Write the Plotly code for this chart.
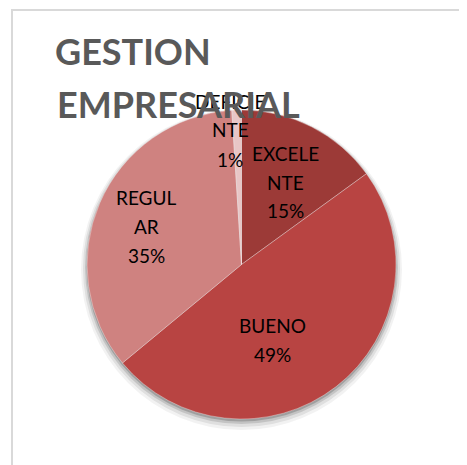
import plotly.graph_objects as go

categories = ["EXCELENTE", "BUENO", "REGULAR", "DEFICIENTE"]
values = [15, 49, 35, 1]
wrapped_labels = [["EXCELE", "NTE"], ["BUENO"], ["REGUL", "AR"], ["DEFICIE", "NTE"]]
colors = ["#9c3a37", "#b84442", "#cf8280", "#e8c6c6"]
title_lines = ["GESTION", "EMPRESARIAL"]

# The page adds an 8px body margin; work in figure pixels.
W, H = 459, 457
OFF = 8


def px(x):
    return (x - OFF) / W


def py(y):
    return 1 - (y - OFF) / H


# label block centres (x, first-line y) in picture pixels
label_pos = [(285, 153), (272, 325), (146, 197), (230, 101)]
LINE = 29

fig = go.Figure()

# soft drop shadow behind the pie
cx0, cx1, cy0, cy1 = 87, 396, 110, 419
for grow, dy, op in [(6, 5, 0.05), (4, 4, 0.08), (2, 3, 0.12), (0.5, 2, 0.18)]:
    fig.add_shape(type="circle", xref="paper", yref="paper",
                  x0=px(cx0 - grow), x1=px(cx1 + grow),
                  y0=py(cy1 + grow + dy), y1=py(cy0 - grow + dy),
                  fillcolor=f"rgba(0,0,0,{op})", line=dict(width=0), layer="below")

fig.add_trace(go.Pie(
    labels=categories,
    values=values,
    textinfo="none",
    sort=False,
    direction="clockwise",
    rotation=0,
    marker=dict(colors=colors, line=dict(color="rgba(255,255,255,0.55)", width=0.6)),
    domain=dict(x=[px(cx0), px(cx1)], y=[py(cy1), py(cy0)]),
    showlegend=False,
    hoverinfo="label+percent",
))

annotations = []
total = sum(values)
for lines, v, (lx, ly) in zip(wrapped_labels, values, label_pos):
    all_lines = lines + [f"{round(100 * v / total)}%"]
    for i, t in enumerate(all_lines):
        annotations.append(dict(
            text=t, x=px(lx), y=py(ly + i * LINE), xref="paper", yref="paper",
            xanchor="center", yanchor="middle", showarrow=False,
            font=dict(family="Lato", size=19, color="black"),
        ))

annotations.append(dict(
    text=f"<b>{title_lines[1]}</b>", x=px(55), y=py(104), xref="paper", yref="paper",
    xanchor="left", yanchor="middle", showarrow=False,
    font=dict(family="Lato", size=36, color="#595959"),
))

fig.update_layout(
    width=W, height=H,
    margin=dict(l=0, r=0, t=0, b=0),
    paper_bgcolor="white",
    title=dict(
        text=f"<b>{title_lines[0]}</b>",
        x=px(55), xanchor="left", y=py(52), yanchor="middle",
        font=dict(family="Lato", size=36, color="#595959"),
    ),
    annotations=annotations,
)
fig.add_shape(type="rect", xref="paper", yref="paper",
              x0=px(12), x1=1.05, y0=-0.05, y1=py(10),
              line=dict(color="#d9d9d9", width=2), layer="below")

fig.write_html("out.html")
